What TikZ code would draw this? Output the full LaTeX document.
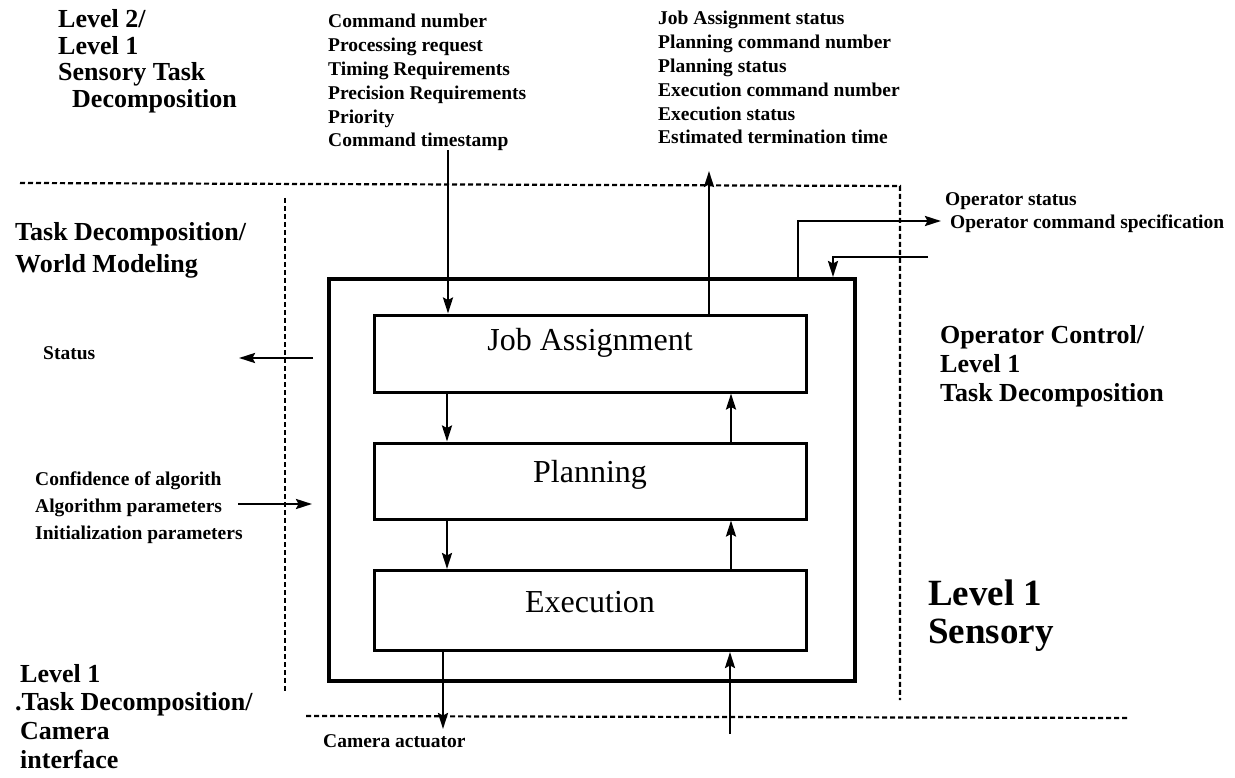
\documentclass[tikz,border=0pt]{standalone}
\usepackage{fontspec}
\setmainfont{Liberation Serif}
\usetikzlibrary{arrows.meta}

\begin{document}
\begin{tikzpicture}[x=1pt,y=-1pt,
  lab/.style={font=\fontsize{19.5}{23.5}\selectfont\bfseries, inner sep=0pt, anchor=base west},
  head/.style={font=\fontsize{26}{29}\selectfont\bfseries, inner sep=0pt, anchor=base west},
  big/.style={font=\fontsize{37}{40}\selectfont\bfseries, inner sep=0pt, anchor=base west},
  boxtext/.style={font=\fontsize{32}{36}\selectfont, inner sep=0pt, anchor=base},
  stage/.style={draw, line width=3pt, minimum width=432pt, inner sep=0pt},
  frame/.style={draw, line width=4pt, inner sep=0pt},
  divider/.style={line width=2.2pt, dash pattern=on 5pt off 3pt},
  arr/.style={line width=2.5pt, -{Stealth[length=16pt,width=10pt,inset=2.5pt]}},
  wire/.style={line width=2.5pt}]

\useasboundingbox (0,0) rectangle (1235,778);

% level boundaries
\coordinate (dTopL) at (20,183);
\coordinate (dTopR) at (900,186);
\coordinate (dLeftT) at (285,198);
\coordinate (dLeftB) at (285,693);
\coordinate (dRightB) at (900,700);
\coordinate (dBotL) at (306,716);
\coordinate (dBotR) at (1128,718);
\draw[divider] (dTopL) -- (dTopR) -- (dRightB);
\draw[divider] (dLeftT) -- (dLeftB);
\draw[divider] (dBotL) -- (dBotR);

% module frame and its three stages
\node[frame, minimum width=526pt, minimum height=402pt] (outer) at (592,480) {};
\node[stage, minimum height=77pt] (ja) at (590,353.5) {};
\node[stage, minimum height=76pt] (pl) at (590,481) {};
\node[stage, minimum height=80pt] (ex) at (590,610.5) {};
\node[boxtext] (jaT) at (590,350) {Job Assignment};
\node[boxtext] (plT) at (590,482) {Planning};
\node[boxtext] (exT) at (590,612) {Execution};

% columns of the internal arrows
\coordinate (xL) at (447,0);
\coordinate (xR) at (731,0);
\draw[arr] (ja.south -| xL) -- (pl.north -| xL);
\draw[arr] (pl.south -| xL) -- (ex.north -| xL);
\draw[arr] (pl.north -| xR) -- (ja.south -| xR);
\draw[arr] (ex.north -| xR) -- (pl.south -| xR);

% command in, status out (upper level)
\coordinate (cmdIn) at (448,150);
\coordinate (stOut) at (709,171);
\draw[arr] (cmdIn) -- (ja.north -| cmdIn);
\draw[arr] (ja.north -| stOut) -- (stOut);

% operator interface
\coordinate (xS) at (798,0);
\coordinate (xC) at (833,0);
\coordinate (opOut) at (941,221);
\coordinate (opIn) at (928,257);
\draw[arr] (outer.north -| xS) |- (opOut);
\draw[arr] (opIn) -| (outer.north -| xC);

% world modeling side
\coordinate (stTail) at (313,358);
\coordinate (stTip) at (239,358);
\draw[arr] (stTail) -- (stTip);
\coordinate (prmTail) at (238,504);
\coordinate (prmTip) at (312,504);
\draw[arr] (prmTail) -- (prmTip);

% camera interface
\coordinate (camTip) at (443,729);
\draw[arr] (ex.south -| camTip) -- (camTip);
\coordinate (camIn) at (730,734);
\draw[arr] (camIn) -- (ex.south -| camIn);

% headings
\node[head] (h1a) at (58,28) {Level 2/};
\node[head] (h1b) at (58,54.5) {Level 1};
\node[head] (h1c) at (58,81) {Sensory Task};
\node[head] (h1d) at (72,107.5) {Decomposition};
\node[head] (h2a) at (15,240.5) {Task Decomposition/};
\node[head] (h2b) at (15,272.5) {World Modeling};
\node[head] (h3a) at (940,343) {Operator Control/};
\node[head] (h3b) at (940,372) {Level 1};
\node[head] (h3c) at (940,401) {Task Decomposition};
\node[head] (h4a) at (20,682) {Level 1};
\node[head] (h4b) at (15,710) {.Task Decomposition/};
\node[head] (h4c) at (20,739) {Camera};
\node[head] (h4d) at (20,768) {interface};
\node[big] (h5a) at (928,605) {Level 1};
\node[big] (h5b) at (928,643) {Sensory};

% signal lists
\node[lab] (c1) at (328,28) {Command number};
\node[lab] (c2) at (328,51.8) {Processing request};
\node[lab] (c3) at (328,75.6) {Timing Requirements};
\node[lab] (c4) at (328,99.4) {Precision Requirements};
\node[lab] (c5) at (328,123.2) {Priority};
\node[lab] (c6) at (328,147) {Command timestamp};
\node[lab] (s1) at (658,25) {Job Assignment status};
\node[lab] (s2) at (658,48.8) {Planning command number};
\node[lab] (s3) at (658,72.6) {Planning status};
\node[lab] (s4) at (658,96.4) {Execution command number};
\node[lab] (s5) at (658,120.2) {Execution status};
\node[lab] (s6) at (658,144) {Estimated termination time};
\node[lab] (o1) at (945,206) {Operator status};
\node[lab] (o2) at (950,229) {Operator command specification};
\node[lab] (w1) at (43,359) {Status};
\node[lab] (p1) at (35,485) {Confidence of algorith};
\node[lab] (p2) at (35,512) {Algorithm parameters};
\node[lab] (p3) at (35,539) {Initialization parameters};
\node[lab] (a1) at (323,747) {Camera actuator};

\end{tikzpicture}
\end{document}
